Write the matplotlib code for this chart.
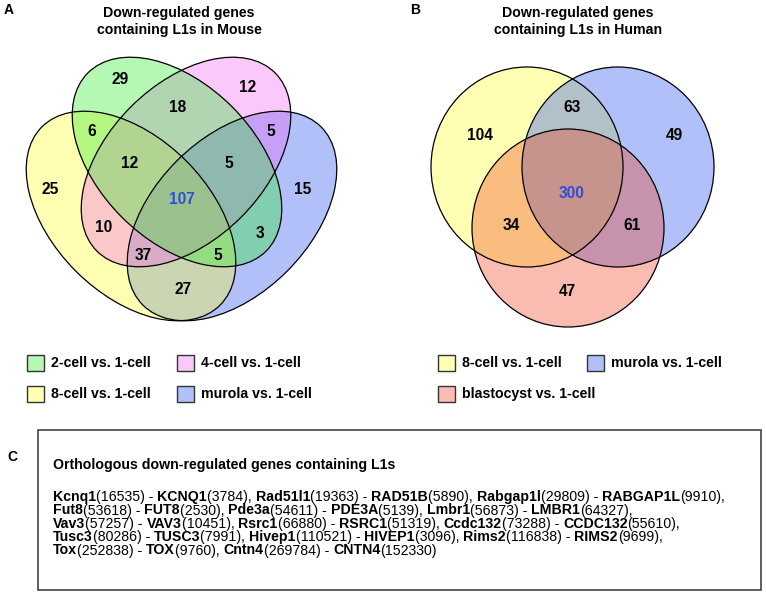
import matplotlib
matplotlib.use("Agg")
import matplotlib.pyplot as plt
from matplotlib.patches import Ellipse, Rectangle

# ---------------- data ----------------
mouse_sets = ["2-cell vs. 1-cell", "4-cell vs. 1-cell", "8-cell vs. 1-cell", "murola vs. 1-cell"]
# region keys: G=2-cell, P=4-cell, Y=8-cell, B=murola
mouse_regions = ["G", "P", "GP", "GY", "PB", "GPY", "GPB", "Y", "GPYB", "B", "PY", "GB", "PYB", "GYB", "YB"]
mouse_counts = [29, 12, 18, 6, 5, 12, 5, 25, 107, 15, 10, 3, 37, 5, 27]

human_sets = ["8-cell vs. 1-cell", "murola vs. 1-cell", "blastocyst vs. 1-cell"]
human_regions = ["YB", "Y", "B", "YBR", "YR", "BR", "R"]
human_counts = [63, 104, 49, 300, 34, 61, 47]

mouse_genes = ["Kcnq1", "Rad51l1", "Rabgap1l", "Fut8", "Pde3a", "Lmbr1", "Vav3", "Rsrc1",
               "Ccdc132", "Tusc3", "Hivep1", "Rims2", "Tox", "Cntn4"]
mouse_ids = [16535, 19363, 29809, 53618, 54611, 56873, 57257, 66880, 73288, 80286,
             110521, 116838, 252838, 269784]
human_genes = ["KCNQ1", "RAD51B", "RABGAP1L", "FUT8", "PDE3A", "LMBR1", "VAV3", "RSRC1",
               "CCDC132", "TUSC3", "HIVEP1", "RIMS2", "TOX", "CNTN4"]
human_ids = [3784, 5890, 9910, 2530, 5139, 64327, 10451, 51319, 55610, 7991, 3096, 9699,
             9760, 152330]
pairs_per_line = [3, 3, 3, 3, 2]

# ---------------- style ----------------
FAM = ["Liberation Sans", "DejaVu Sans"]
ALPHA = 0.35
col_green = (41/255, 235/255, 41/255)
col_pink = (241/255, 98/255, 241/255)
col_yellow = (1.0, 1.0, 41/255)
col_blue = (35/255, 75/255, 241/255)
col_red = (241/255, 64/255, 29/255)
num_blue = "#2F4FD8"


def tint(c, a=ALPHA):
    return tuple(a * ci + (1 - a) for ci in c)


fig = plt.figure(figsize=(7.66, 5.94), dpi=100)
ax = fig.add_axes([0, 0, 1, 1])
ax.set_xlim(0, 766)
ax.set_ylim(594, 0)
ax.axis("off")

# ---------------- panel A ----------------
ell_w, ell_h = 252, 156
# drawing order: murola, 8-cell, 4-cell, 2-cell
A_ell = [((232, 216), -45, col_blue), ((131, 216), 45, col_yellow),
         ((186, 162), -45, col_pink), ((177, 162), 45, col_green)]
for (c, ang, col) in A_ell:
    ax.add_patch(Ellipse(c, ell_w, ell_h, angle=ang, facecolor=col, alpha=ALPHA,
                         edgecolor="none", zorder=1))
for (c, ang, col) in A_ell:
    ax.add_patch(Ellipse(c, ell_w, ell_h, angle=ang, facecolor="none",
                         edgecolor="black", lw=0.9, zorder=2))

A_pos = {"G": (120, 80), "P": (248, 87), "GP": (178, 107), "GY": (92, 132), "PB": (271, 132),
         "GPY": (130, 163), "GPB": (229, 163), "Y": (50, 190), "GPYB": (182, 199),
         "B": (303, 190), "PY": (104, 227), "GB": (260, 233), "PYB": (143, 255),
         "GYB": (218, 255), "YB": (183, 289)}
for r, n in zip(mouse_regions, mouse_counts):
    x, y = A_pos[r]
    ax.text(x, y, str(n), ha="center", va="center", fontsize=11.2, fontweight="bold",
            family=FAM, color=num_blue if r == "GPYB" else "black", zorder=3)

ax.text(179, 13, "Down-regulated genes", ha="center", va="center", fontsize=10.2,
        fontweight="bold", family=FAM)
ax.text(179, 30, "containing L1s in Mouse", ha="center", va="center", fontsize=10.2,
        fontweight="bold", family=FAM)
ax.text(9, 10, "A", ha="center", va="center", fontsize=10, fontweight="bold", family=FAM)

# legend A
A_leg = [(27, 363, col_green, mouse_sets[0]), (177, 363, col_pink, mouse_sets[1]),
         (27, 394, col_yellow, mouse_sets[2]), (177, 394, col_blue, mouse_sets[3])]
for x, y, col, lab in A_leg:
    ax.add_patch(Rectangle((x, y - 8), 17, 16, facecolor=tint(col), edgecolor="#333333",
                           lw=1.0))
    ax.text(x + 24, y, lab, ha="left", va="center", fontsize=10.2, fontweight="bold",
            family=FAM)

# ---------------- panel B ----------------
B_circ = [((527, 167), 192, 200, col_yellow), ((618, 167), 192, 200, col_blue),
          ((568, 228), 192, 198, col_red)]
for (c, w, h, col) in B_circ:
    ax.add_patch(Ellipse(c, w, h, facecolor=col, alpha=ALPHA, edgecolor="none", zorder=1))
for (c, w, h, col) in B_circ:
    ax.add_patch(Ellipse(c, w, h, facecolor="none", edgecolor="black", lw=0.9, zorder=2))

B_pos = {"YB": (572, 108), "Y": (480, 136), "B": (674, 136), "YBR": (572, 193),
         "YR": (511, 226), "BR": (632, 226), "R": (567, 292)}
for r, n in zip(human_regions, human_counts):
    x, y = B_pos[r]
    ax.text(x, y, str(n), ha="center", va="center", fontsize=11.2, fontweight="bold",
            family=FAM, color=num_blue if r == "YBR" else "black", zorder=3)

ax.text(578, 13, "Down-regulated genes", ha="center", va="center", fontsize=10.2,
        fontweight="bold", family=FAM)
ax.text(578, 30, "containing L1s in Human", ha="center", va="center", fontsize=10.2,
        fontweight="bold", family=FAM)
ax.text(415, 10, "B", ha="center", va="center", fontsize=10, fontweight="bold", family=FAM)

B_leg = [(438, 363, col_yellow, human_sets[0]), (587, 363, col_blue, human_sets[1]),
         (438, 394, col_red, human_sets[2])]
for x, y, col, lab in B_leg:
    ax.add_patch(Rectangle((x, y - 8), 17, 16, facecolor=tint(col), edgecolor="#333333",
                           lw=1.0))
    ax.text(x + 24, y, lab, ha="left", va="center", fontsize=10.2, fontweight="bold",
            family=FAM)

# ---------------- panel C ----------------
ax.text(12, 457, "C", ha="center", va="center", fontsize=10, fontweight="bold", family=FAM)
ax.add_patch(Rectangle((38, 430), 723, 160, facecolor="none", edgecolor="#333333", lw=1.1))
ax.text(53, 465, "Orthologous down-regulated genes containing L1s", ha="left", va="center",
        fontsize=10.2, fontweight="bold", family=FAM)

renderer = fig.canvas.get_renderer()
_cache = {}


def advance(s, bold):
    key = (s, bold)
    if key not in _cache:
        w = []
        for t in ("|" + s + "|", "||"):
            tt = ax.text(0, 0, t, fontsize=10.2, family=FAM,
                         fontweight="bold" if bold else "normal")
            w.append(tt.get_window_extent(renderer).width)
            tt.remove()
        _cache[key] = w[0] - w[1]
    return _cache[key]


line_y = [497, 510.5, 524, 537, 550.5]
idx = 0
n_total = len(mouse_genes)
for li, cnt in enumerate(pairs_per_line):
    x = 53
    y = line_y[li]
    for k in range(cnt):
        i = idx + k
        tail = "" if i == n_total - 1 else ("," if k == cnt - 1 else ", ")
        pieces = [(mouse_genes[i], True), ("(%d) - " % mouse_ids[i], False),
                  (human_genes[i], True), ("(%d)%s" % (human_ids[i], tail), False)]
        for s, b in pieces:
            ax.text(x, y, s, ha="left", va="center", fontsize=10.2, family=FAM,
                    fontweight="bold" if b else "normal")
            x += advance(s, b)
    idx += cnt

fig.savefig("out.png", dpi=100)
